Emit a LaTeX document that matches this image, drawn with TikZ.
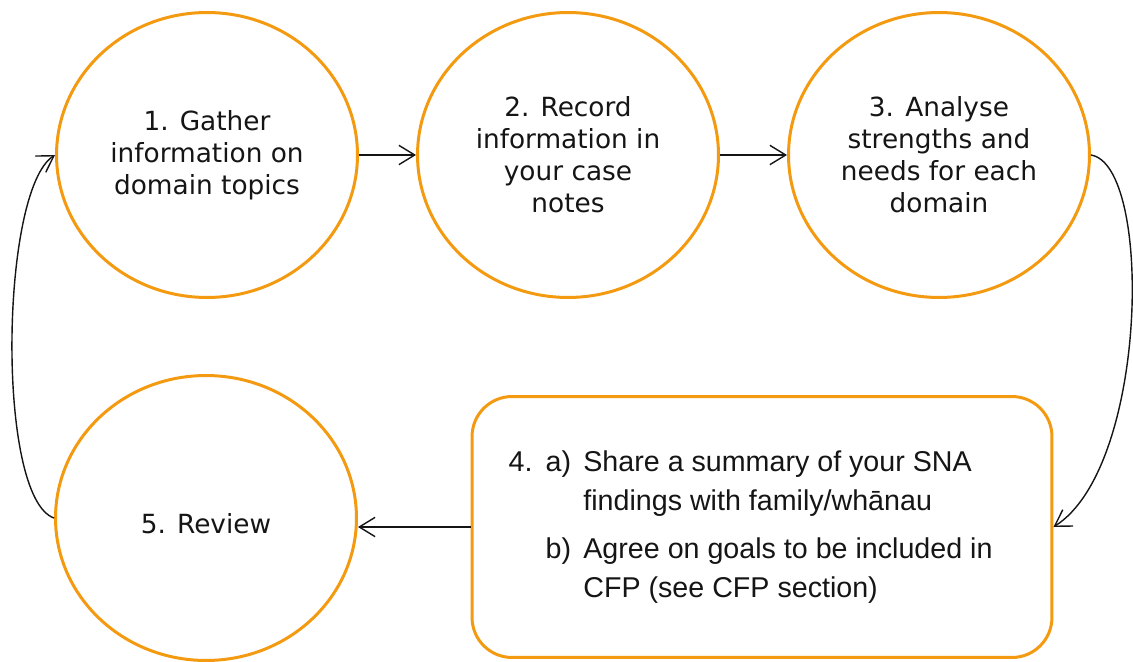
\documentclass[tikz,border=0pt]{standalone}
\usepackage{fontspec}
\usepackage{tikz}
\usetikzlibrary{arrows.meta,calc,positioning,shapes.geometric}
\newfontfamily\fuentepaso{DejaVu Sans}
\newfontfamily\fuentecaja{Liberation Sans}
\definecolor{naranja}{HTML}{F39A10}
\definecolor{tinta}{HTML}{151515}
\tikzset{
  paso/.style={ellipse,draw=naranja,line width=1.7pt,fill=white,inner sep=0pt,minimum width=6.02cm,minimum height=5.7cm,align=center,text=tinta,font=\fuentepaso\fontsize{15}{18.2}\selectfont},
  caja/.style={rectangle,rounded corners=0.8cm,draw=naranja,line width=1.7pt,fill=white,inner sep=0pt,minimum width=11.6cm,minimum height=5.22cm,text=tinta,font=\fuentecaja\fontsize{16.3}{20.4}\selectfont},
  flecha/.style={draw=tinta,line width=0.8pt,-{Straight Barb[length=9pt,width=11pt,line width=0.8pt]}},
}

\begin{document}
\begin{tikzpicture}[x=0.02cm,y=-0.02cm]
\useasboundingbox (0,0) rectangle (1133,662);
\coordinate (c1) at (207,155);
\coordinate (c2) at (568,155);
\coordinate (c3) at (939,155);
\coordinate (c4) at (762,527);
\coordinate (c5) at (206,518);
\node[paso] (p1) at (c1) {1. Gather\\information on\\domain topics};
\node[paso] (p2) at (c2) {2. Record\\information in\\your case\\notes};
\node[paso] (p3) at (c3) {3. Analyse\\strengths and\\needs for each\\domain};
\node[caja] (p4) at (c4) {%
  \begin{tabular}{@{}l@{\hspace{7.5pt}}l@{\hspace{7pt}}l@{}}
  4. & a) & Share a summary of your SNA\\[1.7pt]
     &    & findings with family/whānau\\[7pt]
     & b) & Agree on goals to be included in\\[1.7pt]
     &    & CFP (see CFP section)
  \end{tabular}\hspace*{13pt}};
\node[paso,text height=21pt,text depth=3.5pt] (p5) at (c5) {5. Review};
\draw[flecha] (p1.east) -- (p2.west);
\draw[flecha] (p2.east) -- (p3.west);
\draw[flecha] (p3.east) .. controls +(62,10) and +(95,-60) .. (p4.east);
\draw[flecha] (p4.west) -- (p4.west -| p5.east);
\draw[flecha] (p5.west) .. controls +(-58,-20) and +(-55,35) .. (p1.west);
\end{tikzpicture}
\end{document}
